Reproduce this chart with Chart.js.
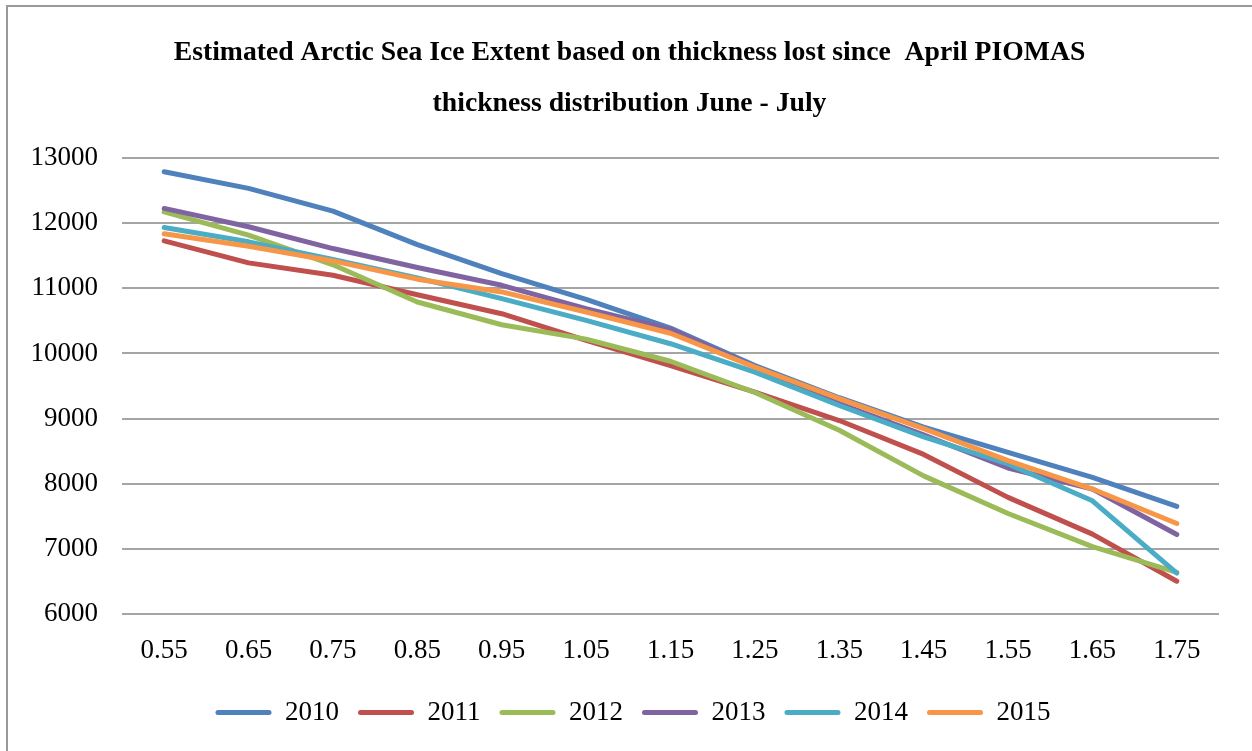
<!DOCTYPE html>
<html>
<head>
<meta charset="utf-8">
<script src="https://cdn.jsdelivr.net/npm/chart.js@4/dist/chart.umd.min.js"></script>
<style>
  html, body { margin: 0; padding: 0; background: #fff; }
  #wrap { position: relative; width: 1252px; height: 751px; overflow: hidden; }
  #frame { position: absolute; left: 6px; top: 5px; width: 1400px; height: 900px;
           border-left: 2px solid #9a9a9a; border-top: 2px solid #9a9a9a; box-sizing: border-box; pointer-events: none; }
  canvas { position: absolute; left: 0; top: 0; }
</style>
</head>
<body>
<div id="wrap">
  <canvas id="c" width="1252" height="751"></canvas>
  <div id="frame"></div>
</div>
<script>
// Thickness thresholds (m) along the x axis
const thickness = ['0.55', '0.65', '0.75', '0.85', '0.95', '1.05', '1.15', '1.25', '1.35', '1.45', '1.55', '1.65', '1.75'];

// Estimated extent per year
const y2010 = [12790, 12534, 12185, 11670, 11226, 10830, 10390, 9815, 9320, 8870, 8482, 8097, 7651];
const y2011 = [11728, 11390, 11200, 10900, 10610, 10200, 9815, 9405, 8970, 8450, 7790, 7226, 6503];
const y2012 = [12174, 11815, 11360, 10790, 10440, 10220, 9880, 9400, 8820, 8120, 7543, 7035, 6640];
const y2013 = [12226, 11944, 11610, 11320, 11046, 10687, 10370, 9790, 9230, 8750, 8241, 7918, 7220];
const y2014 = [11933, 11713, 11441, 11160, 10841, 10508, 10149, 9712, 9200, 8720, 8303, 7738, 6626];
const y2015 = [11836, 11646, 11420, 11140, 10944, 10636, 10310, 9790, 9305, 8845, 8354, 7918, 7389];

const years = ['2010', '2011', '2012', '2013', '2014', '2015'];
const series = [y2010, y2011, y2012, y2013, y2014, y2015];
const colors = ['#4F81BD', '#C0504D', '#9BBB59', '#8064A2', '#4BACC6', '#F79646'];

const yTicks = [6000, 7000, 8000, 9000, 10000, 11000, 12000, 13000];

const serif = "'Liberation Serif', 'DejaVu Serif', serif";

const datasets = series.map((vals, i) => ({
  label: years[i],
  data: vals,
  borderColor: colors[i],
  backgroundColor: colors[i],
  borderWidth: 5,
  pointRadius: 0,
  pointHoverRadius: 0,
  tension: 0,
  borderCapStyle: 'round',
  borderJoinStyle: 'round',
  order: series.length - i   // later years are painted on top
}));

// Nudge the title and legend rows right so they sit over/under the plot's centre
const centreBlocks = {
  id: 'centreBlocks',
  afterLayout(chart) {
    const lg = chart.legend;
    if (lg) { lg.left += 23.5; lg.right += 23.5; }
    const tb = chart.titleBlock;
    if (tb) { tb.left += 20; tb.right += 20; }
  }
};

new Chart(document.getElementById('c'), {
  type: 'line',
  data: { labels: thickness, datasets },
  plugins: [centreBlocks],
  options: {
    responsive: false,
    animation: false,
    events: [],
    layout: { padding: { left: 0, right: 33, top: 0, bottom: 15 } },
    plugins: {
      title: {
        display: true,
        text: ['Estimated Arctic Sea Ice Extent based on thickness lost since  April PIOMAS',
               'thickness distribution June - July'],
        color: '#000',
        font: { family: serif, size: 27.7, weight: 'bold', lineHeight: 51 / 27.7 },
        padding: { top: 27, bottom: 29 }
      },
      legend: {
        position: 'bottom',
        labels: {
          color: '#000',
          font: { family: serif, size: 27 },
          boxWidth: 56,
          boxHeight: 5,
          padding: 19,
          sort: (a, b) => a.datasetIndex - b.datasetIndex,
          generateLabels: (chart) => {
            const items = Chart.defaults.plugins.legend.labels.generateLabels(chart);
            items.forEach(it => { it.lineWidth = 0; it.borderRadius = 2.5; });
            return items;
          }
        }
      },
      tooltip: { enabled: false }
    },
    scales: {
      x: {
        offset: true,
        grid: { display: false, drawTicks: false },
        border: { display: false },
        ticks: { color: '#000', font: { family: serif, size: 27 }, padding: 21, maxRotation: 0 },
        afterFit: (s) => { s.height = 66; }
      },
      y: {
        min: 6000,
        max: 13000,
        grid: { color: '#a5a5a5', lineWidth: 2, drawTicks: false },
        border: { display: false },
        afterBuildTicks: (s) => { s.ticks = yTicks.map(v => ({ value: v })); },
        ticks: { color: '#000', font: { family: serif, size: 27 }, padding: 24,
                 callback: (v) => String(v) },
        afterFit: (s) => { s.width = 122; }
      }
    }
  }
});
</script>
</body>
</html>
